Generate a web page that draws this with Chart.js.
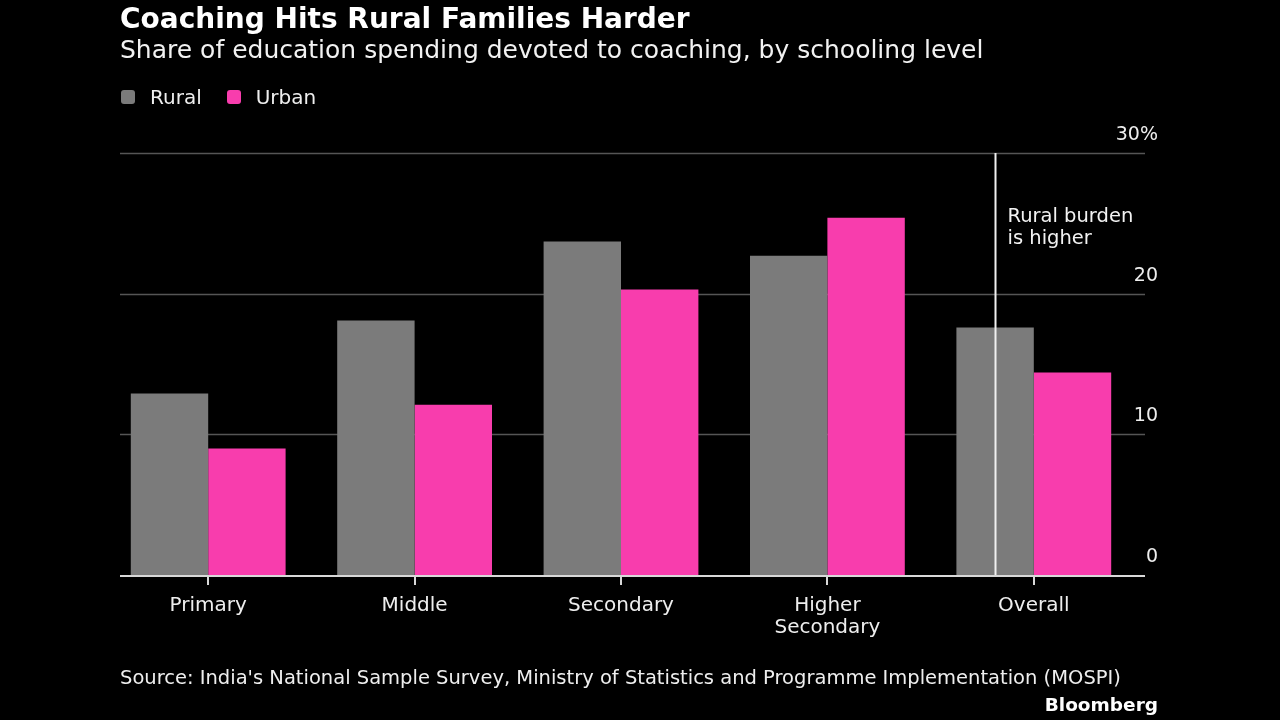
<!DOCTYPE html>
<html>
<head>
<meta charset="utf-8">
<script src="https://cdn.jsdelivr.net/npm/chart.js@4"></script>
<style>
  html, body { margin:0; padding:0; background:#000; }
  body { width:1280px; height:720px; position:relative; overflow:hidden; font-family:"DejaVu Sans",sans-serif; color:#fff; }
  #c { position:absolute; left:0; top:0; }
  .t { position:absolute; white-space:nowrap; }
  #title { left:120px; top:2px; font-size:28px; font-weight:bold; }
  #sub { left:120px; top:35px; font-size:25px; color:#f2f2f2; }
  #legend { left:121px; top:85px; font-size:20px; color:#eee; display:flex; align-items:center; }
  .sw { width:14px; height:14px; border-radius:3px; display:inline-block; margin-right:15px; }
  .li { display:flex; align-items:center; margin-right:25px; }
  #src { left:120px; top:666px; font-size:19.5px; color:#eee; }
  #brand { right:122px; top:694px; font-size:18.5px; font-weight:bold; }
</style>
</head>
<body>
<canvas id="c" width="1280" height="720"></canvas>
<div class="t" id="title">Coaching Hits Rural Families Harder</div>
<div class="t" id="sub">Share of education spending devoted to coaching, by schooling level</div>
<div class="t" id="legend"></div>
<div class="t" id="src">Source: India's National Sample Survey, Ministry of Statistics and Programme Implementation (MOSPI)</div>
<div class="t" id="brand">Bloomberg</div>
<script>
const categories = ['Primary', 'Middle', 'Secondary', ['Higher', 'Secondary'], 'Overall'];
const seriesNames = ['Rural', 'Urban'];
const rural = [12.9, 18.1, 23.7, 22.7, 17.6];
const urban = [9.0, 12.1, 20.3, 25.4, 14.4];
const yTicks = [0, 10, 20, 30];
const yTickLabels = ['0', '10', '20', '30%'];
const annotationText = ['Rural burden', 'is higher'];
const annotationIndex = 4;

const colors = ['#7b7b7b', '#f83dad'];
const FONT = '"DejaVu Sans",sans-serif';

// legend
const lg = document.getElementById('legend');
seriesNames.forEach((n, i) => {
  const d = document.createElement('span');
  d.className = 'li';
  d.innerHTML = '<span class="sw" style="background:' + colors[i] + '"></span>' + n;
  lg.appendChild(d);
});

const decor = {
  id: 'decor',
  beforeDatasetsDraw(chart) {
    const ctx = chart.ctx, y = chart.scales.y;
    const x0 = 120, x1 = 1145;
    ctx.save();
    ctx.strokeStyle = '#555';
    ctx.lineWidth = 1.5;
    yTicks.forEach(v => {
      if (v === 0) return;
      const py = Math.round(y.getPixelForValue(v)) + 0.5;
      ctx.beginPath(); ctx.moveTo(x0, py); ctx.lineTo(x1, py); ctx.stroke();
    });
    ctx.restore();
  },
  afterDatasetsDraw(chart) {
    const ctx = chart.ctx, y = chart.scales.y;
    const x0 = 120, x1 = 1145;
    ctx.save();
    // baseline
    const p0 = y.getPixelForValue(0);
    ctx.strokeStyle = '#d8d8d8';
    ctx.lineWidth = 2;
    ctx.beginPath(); ctx.moveTo(x0, p0 + 1); ctx.lineTo(x1, p0 + 1); ctx.stroke();
    // y labels
    ctx.fillStyle = '#eee';
    ctx.font = '19px ' + FONT;
    ctx.textAlign = 'right';
    ctx.textBaseline = 'middle';
    yTicks.forEach((v, i) => {
      ctx.fillText(yTickLabels[i], 1158, y.getPixelForValue(v) - 18);
    });
    // annotation line
    const bar = chart.getDatasetMeta(0).data[annotationIndex];
    const ax = Math.round(bar.x) + 0.5;
    ctx.strokeStyle = '#f0f0f0';
    ctx.lineWidth = 2;
    ctx.beginPath(); ctx.moveTo(ax, y.getPixelForValue(30)); ctx.lineTo(ax, p0); ctx.stroke();
    ctx.textAlign = 'left';
    ctx.fillStyle = '#f2f2f2';
    ctx.font = '19.5px ' + FONT;
    annotationText.forEach((t, i) => {
      ctx.fillText(t, ax + 12, y.getPixelForValue(30) + 64 + i * 22);
    });
    ctx.restore();
  }
};

new Chart(document.getElementById('c'), {
  type: 'bar',
  data: {
    labels: categories,
    datasets: [
      { label: seriesNames[0], data: rural, backgroundColor: colors[0], barPercentage: 1, categoryPercentage: 0.75 },
      { label: seriesNames[1], data: urban, backgroundColor: colors[1], barPercentage: 1, categoryPercentage: 0.75 }
    ]
  },
  options: {
    responsive: false,
    animation: false,
    devicePixelRatio: 1,
    layout: { padding: { left: 105, right: 143, top: 153, bottom: 75 } },
    plugins: { legend: { display: false }, tooltip: { enabled: false }, title: { display: false } },
    scales: {
      y: { display: false, min: 0, max: 30 },
      x: {
        afterFit(s) { s.height = 70; },
        border: { display: false },
        grid: { drawOnChartArea: false, drawTicks: true, tickLength: 10, color: '#d8d8d8', lineWidth: 2, offset: false },
        ticks: { color: '#eee', font: { family: FONT, size: 20, lineHeight: 1.1 }, padding: 10, maxRotation: 0, autoSkip: false }
      }
    }
  },
  plugins: [decor]
});
</script>
</body>
</html>
